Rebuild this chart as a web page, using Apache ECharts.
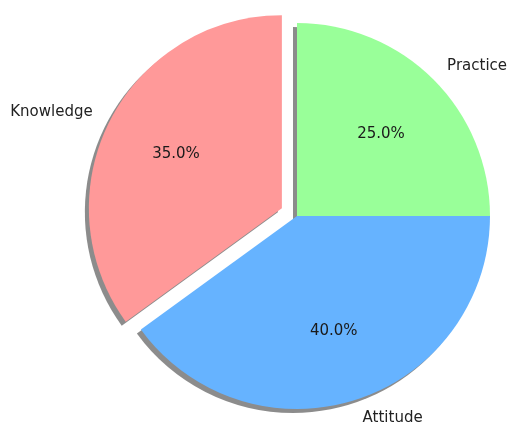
<!DOCTYPE html>
<html>
<head>
<meta charset="utf-8">
<script src="https://cdn.jsdelivr.net/npm/echarts@6/dist/echarts.min.js"></script>
<style>
  html, body { margin: 0; padding: 0; background: #fff; }
  #main { width: 512px; height: 430px; }
</style>
</head>
<body>
<div id="main"></div>
<script>
// 数据 (order follows the clockwise drawing from 12 o'clock)
var names = ['Practice', 'Attitude', 'Knowledge'];
var values = [25, 40, 35];
var colors = ['#99ff99', '#66b3ff', '#ff9999'];
var exploded = [false, false, true];

var myChart = echarts.init(document.getElementById('main'));

var R = 193;
var center = [297, 216];
var font = 'DejaVu Sans';

function items(withColor) {
    var out = [];
    for (var i = 0; i < names.length; i++) {
        out.push({
            name: names[i],
            value: values[i],
            selected: exploded[i],
            itemStyle: withColor ? { color: colors[i] } : { color: 'rgba(0,0,0,0)' }
        });
    }
    return out;
}

var common = {
    type: 'pie',
    center: center,
    startAngle: 90,
    clockwise: true,
    selectedMode: 'single',
    selectedOffset: 17,
    avoidLabelOverlap: false,
    animation: false,
    emphasis: { disabled: true },
    labelLine: { show: false }
};

var option = {
    backgroundColor: '#fff',
    series: [
        // 扇形 + 阴影
        Object.assign({}, common, {
            name: 'wedges',
            radius: [0, R],
            data: items(true),
            itemStyle: {
                shadowColor: 'rgba(0,0,0,0.45)',
                shadowBlur: 0,
                shadowOffsetX: -4,
                shadowOffsetY: 4
            },
            label: { show: false }
        }),
        // 百分比 (0.6 r)
        Object.assign({}, common, {
            name: 'pct',
            radius: [0, R * 1.2],
            silent: true,
            data: items(false),
            label: {
                show: true,
                position: 'inside',
                offset: [0, 2],
                formatter: function (p) { return p.percent.toFixed(1) + '%'; },
                fontFamily: font,
                fontSize: 15,
                color: '#1a1a1a'
            }
        }),
        // 名称 (1.1 r)
        Object.assign({}, common, {
            name: 'names',
            radius: [0, R],
            silent: true,
            data: items(false),
            labelLine: { show: false, length: R * 0.1, length2: 0 },
            label: {
                show: true,
                position: 'outside',
                distanceToLabelLine: 0,
                formatter: '{b}',
                fontFamily: font,
                fontSize: 15,
                color: '#222'
            }
        })
    ]
};

myChart.setOption(option);
</script>
</body>
</html>
